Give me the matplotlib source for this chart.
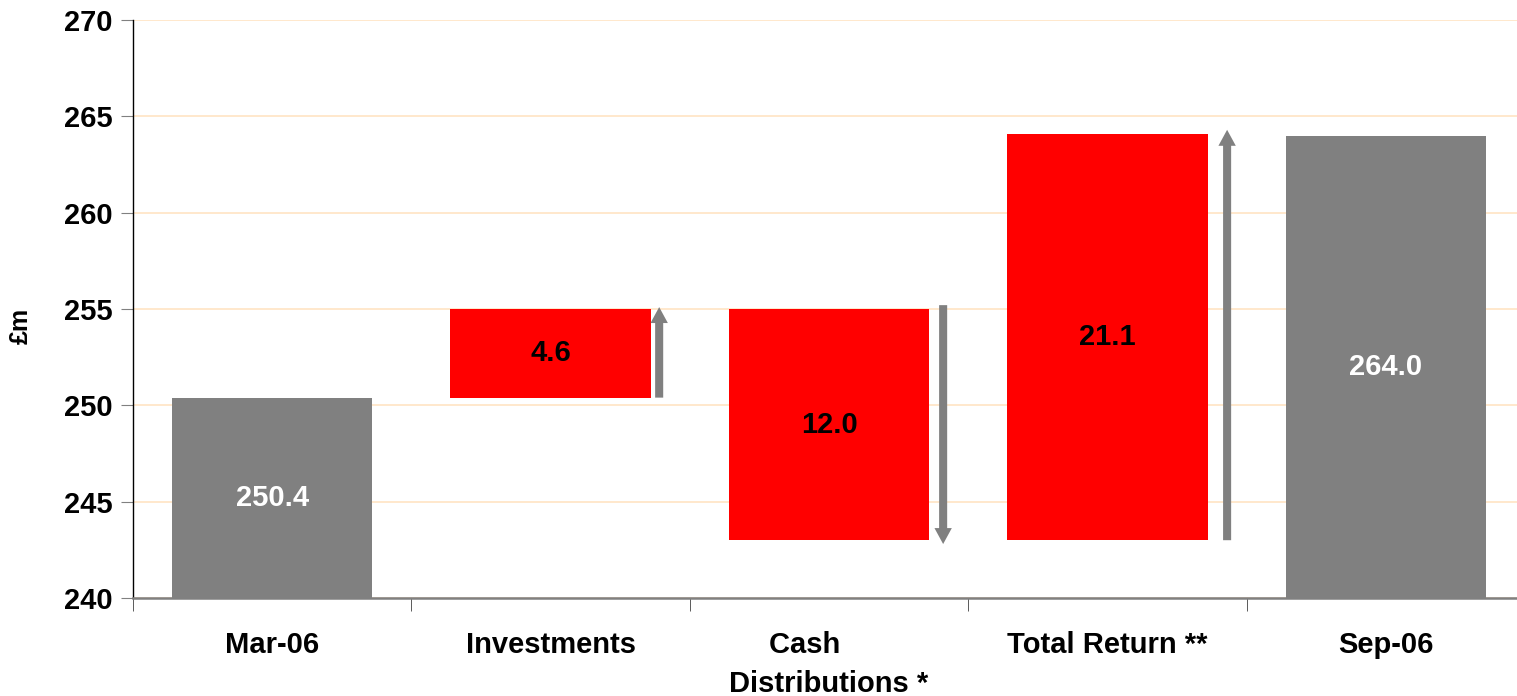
import matplotlib.pyplot as plt
import numpy as np

plt.rcParams['font.family'] = ['Liberation Sans', 'DejaVu Sans']
plt.rcParams['font.weight'] = 'bold'

categories = ['Mar-06', 'Investments', 'Cash      \nDistributions *', 'Total Return **', 'Sep-06']
bar_bottoms = [240.0, 250.4, 243.0, 243.0, 240.0]
bar_tops = [250.4, 255.0, 255.0, 264.1, 264.0]
bar_labels = ['250.4', '4.6', '12.0', '21.1', '264.0']
bar_colors = ['#808080', '#ff0000', '#ff0000', '#ff0000', '#808080']
label_colors = ['white', 'black', 'black', 'black', 'white']

# arrows: (category index, x offset, start, end)
arrows = [(1, 0.39, 250.4, 255.1), (2, 0.41, 255.2, 242.8), (3, 0.43, 243.0, 264.3)]

fig = plt.figure(figsize=(15.17, 6.96), dpi=100)
ax = fig.add_axes([133 / 1517, 98 / 696, 1392 / 1517, 578 / 696])

x = np.arange(len(categories))
heights = np.array(bar_tops) - np.array(bar_bottoms)
ax.bar(x, heights, bottom=bar_bottoms, width=0.72, color=bar_colors, zorder=2)

for i in range(len(categories)):
    mid = (bar_bottoms[i] + bar_tops[i]) / 2
    ax.text(x[i], mid, bar_labels[i], ha='center', va='center',
            fontsize=21, fontweight='bold', color=label_colors[i], zorder=3)

for idx, off, start, end in arrows:
    ax.annotate('', xy=(idx + off, end), xytext=(idx + off, start),
                arrowprops=dict(facecolor='#808080', edgecolor='none', width=5.8,
                                headwidth=12.5, headlength=11.5, shrink=0),
                zorder=3)

ax.set_xlim(-0.5, len(categories) - 0.5)
ax.set_ylim(240, 270)
ax.set_yticks(np.arange(240, 271, 5))
ax.yaxis.grid(True, color='#ffe4c4', linewidth=1.2, zorder=0)
ax.set_axisbelow(True)

ax.set_xticks(x)
ax.set_xticklabels(categories, fontsize=21, fontweight='bold', linespacing=1.5)
ax.set_xticks(np.arange(-0.5, len(categories), 1), minor=True)
ax.tick_params(axis='x', which='major', length=0, pad=24)
ax.tick_params(axis='x', which='minor', length=9, color='#404040', direction='out')
ax.tick_params(axis='y', length=9, color='#808080', labelsize=21, pad=6)
for lbl in ax.get_yticklabels():
    lbl.set_fontweight('bold')

ax.spines['top'].set_visible(False)
ax.spines['right'].set_visible(False)
ax.spines['left'].set_color('black')
ax.spines['left'].set_linewidth(1.0)
ax.spines['bottom'].set_color('#808080')
ax.spines['bottom'].set_linewidth(1.8)

ax.set_ylabel('£m', fontsize=18, fontweight='bold')
ax.yaxis.set_label_coords(-0.072, 0.47)

fig.savefig('out.png', dpi=100)
